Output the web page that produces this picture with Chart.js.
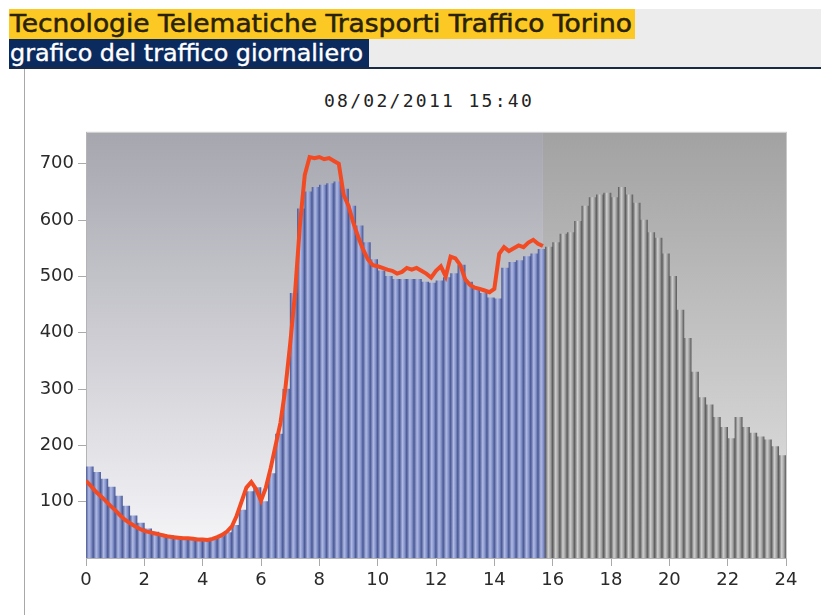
<!DOCTYPE html>
<html lang="it">
<head>
<meta charset="UTF-8">
<title>Tecnologie Telematiche Trasporti Traffico Torino</title>
<script src="https://cdn.jsdelivr.net/npm/chart.js"></script>
<style>
  body { margin: 0; width: 821px; height: 615px; overflow: hidden; position: relative; background: #fff; font-family: "DejaVu Sans", sans-serif; }
  #fascia { position: absolute; left: 9px; top: 9px; width: 812px; height: 58px; background: #ececec; }
  #giallo { position: absolute; left: 9px; top: 9px; width: 625px; height: 30px; padding-left: 1px; background: #fcc824; color: #2a2204; font-size: 24px; line-height: 30px; white-space: nowrap; -webkit-text-stroke: 0.5px #2a2204; }
  #blu { position: absolute; left: 9px; top: 39px; width: 359px; height: 30px; padding-left: 1px; background: #0b2a5e; color: #fff; font-size: 23px; line-height: 28px; white-space: nowrap; -webkit-text-stroke: 0.4px #fff; }
  .fit { display: inline-block; transform-origin: 0 50%; }
  #linea { position: absolute; left: 9px; top: 67px; width: 812px; height: 2px; background: #1a2a44; }
  #bordo { position: absolute; left: 24px; top: 69px; width: 1px; height: 546px; background: #a8a8a8; }
  #titolo { position: absolute; left: 0; top: 90px; width: 858px; text-align: center; font-family: "DejaVu Sans Mono", monospace; font-size: 18px; letter-spacing: 2.3px; color: #222; }
  #contenitore { position: absolute; left: 0; top: 118px; width: 821px; height: 497px; }
</style>
</head>
<body>
<div id="fascia"></div>
<div id="giallo"><span class="fit" data-w="622">Tecnologie Telematiche Trasporti Traffico Torino</span></div>
<div id="blu"><span class="fit" data-w="353">grafico del traffico giornaliero</span></div>
<div id="linea"></div>
<div id="bordo"></div>
<div id="titolo">08/02/2011 15:40</div>
<div id="contenitore"><canvas id="grafico"></canvas></div>

<script>
  // adatta la larghezza delle scritte dell'intestazione
  document.querySelectorAll('.fit').forEach(function (el) {
    const w = el.getBoundingClientRect().width;
    el.style.transform = 'scaleX(' + (el.dataset.w / w) + ')';
  });

  // ora del rilevamento (15:40)
  const oraAttuale = 15 + 40 / 60;

  // traffico ogni 15 minuti (colonne), 00:00 - 23:45
  const barValues = [
    162, 152, 140, 126, 110, 92, 75, 62,
    52, 46, 42, 40, 38, 36, 35, 34,
    33, 34, 38, 45, 58, 85, 118, 125,
    100, 150, 220, 300, 470, 620, 650, 658,
    662, 665, 668, 655, 625, 590, 560, 530,
    510, 500, 495, 495, 495, 495, 490, 488,
    492, 498, 505, 520, 490, 478, 470, 462,
    460, 515, 525, 528, 535, 540, 548, 552,
    560, 575, 578, 598, 625, 640, 645, 648,
    640, 658, 645, 630, 600, 578, 568, 540,
    500, 440, 390, 330, 285, 272, 250, 232,
    212, 250, 232, 222, 215, 210, 198, 182
  ];
  const barTimes = barValues.map((v, i) => i / 4 + 1 / 8);

  // traffico di oggi ogni 10 minuti (linea rossa), 00:00 - 15:40
  const lineValues = [
    137, 128, 118, 110, 102, 93, 85, 76, 68, 62, 57, 52,
    48, 46, 44, 42, 40, 38, 37, 36, 35, 35, 34, 33,
    33, 32, 34, 37, 41, 47, 56, 75, 100, 125, 135, 122,
    102, 125, 160, 200, 240, 300, 380, 470, 590, 680, 712, 710,
    712, 708, 710, 705, 700, 645, 625, 595, 570, 548, 530, 520,
    518, 515, 512, 510, 505, 508, 515, 512, 515, 510, 505, 498,
    510, 518, 500, 535, 532, 520, 495, 485, 480, 478, 475, 472,
    478, 540, 552, 545, 550, 555, 552, 560, 565, 558, 554
  ];
  const lineTimes = lineValues.map((v, i) => i / 6);

  const yTicks = [100, 200, 300, 400, 500, 600, 700];
  const xTicks = [0, 2, 4, 6, 8, 10, 12, 14, 16, 18, 20, 22, 24];

  // colonna con ombreggiatura "cilindrica"
  function colonna(c) {
    const passato = barTimes[c.dataIndex] < oraAttuale;
    const scuro = passato ? '#4b5a95' : '#5e5e5e';
    const chiaro = passato ? '#b0bae4' : '#cfcfcf';
    const medio = passato ? '#8594cc' : '#a4a4a4';
    const chart = c.chart;
    const x = chart.scales.x;
    if (c.type !== 'data' || !chart.chartArea || !x) return medio;
    const cx = x.getPixelForValue(barTimes[c.dataIndex]);
    const w = x.getPixelForValue(0.25) - x.getPixelForValue(0);
    const g = chart.ctx.createLinearGradient(cx - w / 2, 0, cx + w / 2, 0);
    g.addColorStop(0, scuro);
    g.addColorStop(0.4, chiaro);
    g.addColorStop(0.7, medio);
    g.addColorStop(1, scuro);
    return g;
  }

  // sfondo dell'area del grafico: giornata trascorsa / ore future
  const sfondo = {
    id: 'sfondo',
    beforeDraw(chart) {
      const ctx = chart.ctx;
      const a = chart.chartArea;
      const xn = chart.scales.x.getPixelForValue(oraAttuale);
      ctx.save();
      let g = ctx.createLinearGradient(0, a.top, 0, a.bottom);
      g.addColorStop(0, '#a6a6af');
      g.addColorStop(1, '#f7f7fa');
      ctx.fillStyle = g;
      ctx.fillRect(a.left, a.top, xn - a.left, a.bottom - a.top);
      g = ctx.createLinearGradient(0, a.top, 0, a.bottom);
      g.addColorStop(0, '#a2a2a2');
      g.addColorStop(1, '#e6e6e6');
      ctx.fillStyle = g;
      ctx.fillRect(xn, a.top, a.right - xn, a.bottom - a.top);
      ctx.strokeStyle = '#c8c8c8';
      ctx.lineWidth = 1;
      ctx.strokeRect(a.left + 0.5, a.top - 0.5, a.right - a.left, a.bottom - a.top);
      ctx.restore();
    }
  };

  const ctx = document.getElementById('grafico').getContext('2d');
  new Chart(ctx, {
    type: 'bar',
    data: {
      datasets: [{
        type: 'line',
        data: lineTimes.map((t, i) => ({ x: t, y: lineValues[i] })),
        borderColor: '#f24a22',
        borderWidth: 4,
        pointRadius: 0,
        tension: 0,
        order: 0
      }, {
        type: 'bar',
        data: barTimes.map((t, i) => ({ x: t, y: barValues[i] })),
        backgroundColor: colonna,
        borderWidth: 0,
        barPercentage: 1,
        categoryPercentage: 1,
        order: 1
      }]
    },
    options: {
      responsive: true,
      maintainAspectRatio: false,
      devicePixelRatio: 1,
      animation: false,
      layout: { padding: { left: 0, right: 35, top: 10, bottom: 0 } },
      plugins: {
        legend: { display: false },
        tooltip: { enabled: false },
        title: { display: false }
      },
      scales: {
        x: {
          type: 'linear',
          min: 0,
          max: 24,
          offset: false,
          afterFit: s => { s.height = 57; },
          afterBuildTicks: s => { s.ticks = xTicks.map(v => ({ value: v })); },
          ticks: {
            autoSkip: false,
            maxRotation: 0,
            padding: 4,
            color: '#2a2a2a',
            font: { family: 'DejaVu Sans', size: 18 }
          },
          grid: { offset: false, drawOnChartArea: false, tickLength: 8, color: '#aaa' },
          border: { display: true, color: '#b4b4b4' }
        },
        y: {
          min: 0,
          max: 755,
          afterFit: s => { s.width = 86; },
          afterBuildTicks: s => { s.ticks = yTicks.map(v => ({ value: v })); },
          ticks: {
            padding: 4,
            color: '#2a2a2a',
            font: { family: 'DejaVu Sans', size: 18 }
          },
          grid: { drawOnChartArea: false, tickLength: 8, color: '#aaa' },
          border: { display: true, color: '#b4b4b4' }
        }
      }
    },
    plugins: [sfondo]
  });
</script>
</body>
</html>
